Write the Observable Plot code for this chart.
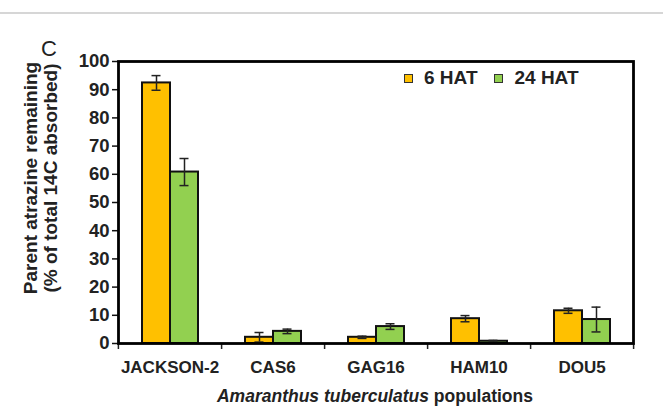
<!DOCTYPE html>
<html><head><meta charset="utf-8">
<script src="https://cdn.jsdelivr.net/npm/d3@7"></script>
<script src="https://cdn.jsdelivr.net/npm/@observablehq/plot@0.6"></script>
<style>
body{margin:0;background:#fff;}
#wrap{position:relative;width:663px;height:406px;overflow:hidden;background:#fff;
  font-family:"Liberation Sans",Arial,sans-serif;color:#222;}
#topline{position:absolute;left:0;top:12px;width:663px;height:2px;background:#d6d6d6;}
#panel{position:absolute;left:41px;top:36px;font-size:22px;color:#222;}
#ylab{position:absolute;width:300px;height:42px;left:-108px;top:157px;transform:rotate(-90deg);
  text-align:center;font-weight:bold;font-size:19px;line-height:20px;}
#xlab{position:absolute;left:117px;width:516px;top:386px;text-align:center;font-weight:bold;font-size:17.5px;}
#legend{position:absolute;left:404px;top:67px;display:flex;align-items:center;font-weight:bold;font-size:19px;}
#legend .sw{width:7px;height:7px;border:1.5px solid #333;display:inline-block;margin-right:11px;}
#legend .item{display:flex;align-items:center;margin-right:17px;}
#chart{position:absolute;left:0;top:0;}
</style></head>
<body><div id="wrap">
<div id="topline"></div>
<div id="chart"></div>
<div id="panel">C</div>
<div id="ylab">Parent atrazine remaining<br>(% of total 14C absorbed)</div>
<div id="xlab"><i>Amaranthus tuberculatus</i> populations</div>
<div id="legend"></div>
</div>
<script>
const categories = ["JACKSON-2", "CAS6", "GAG16", "HAM10", "DOU5"];
const series = ["6 HAT", "24 HAT"];
const colors = ["#FFC000", "#92D050"];
const hat6 = [92.4, 2.2, 2.2, 8.8, 11.6];
const hat6Err = [2.6, 1.7, 0.4, 1.1, 0.9];
const hat24 = [60.8, 4.3, 6.0, 0.8, 8.5];
const hat24Err = [4.8, 0.8, 1.0, 0.3, 4.4];
const yTicks = [0, 10, 20, 30, 40, 50, 60, 70, 80, 90, 100];

const data = [];
categories.forEach((c, i) => {
  data.push({cat: c, series: series[0], value: hat6[i], err: hat6Err[i]});
  data.push({cat: c, series: series[1], value: hat24[i], err: hat24Err[i]});
});

const W = 663, H = 406, ML = 117, MR = 30, MT = 61, MB = 63;
const step = (W - ML - MR) / categories.length;
const font = '"Liberation Sans",Arial,sans-serif';

const chart = Plot.plot({
  width: W, height: H,
  marginLeft: ML, marginRight: MR, marginTop: MT, marginBottom: MB,
  style: {fontFamily: font, fontSize: "17px", fontWeight: "bold", color: "#222", background: "transparent"},
  fx: {domain: categories, padding: 0, label: null, axis: null},
  x: {domain: series, paddingInner: 0, paddingOuter: 0.78, axis: null},
  y: {domain: [0, 100], label: null, axis: null},
  color: {domain: series, range: colors},
  marks: [
    Plot.barY(data, {fx: "cat", x: "series", y: "value", fill: "series", stroke: "#111", strokeWidth: 2}),
    Plot.ruleX(data, {fx: "cat", x: "series", y1: d => Math.max(0, d.value - d.err), y2: d => d.value + d.err, stroke: "#222", strokeWidth: 1.5}),
    Plot.tickY(data, {fx: "cat", x: "series", y: d => d.value + d.err, stroke: "#222", strokeWidth: 1.5, insetLeft: 9.5, insetRight: 9.5}),
    Plot.tickY(data, {fx: "cat", x: "series", y: d => Math.max(0, d.value - d.err), stroke: "#222", strokeWidth: 1.5, insetLeft: 9.5, insetRight: 9.5}),
    Plot.axisY({ticks: yTicks, tickSize: 6, tickPadding: 3, label: null, fontSize: 18.5, stroke: "#111", strokeWidth: 1.5}),
    Plot.axisFx({anchor: "bottom", tickSize: 0, tickPadding: 17, label: null, fontSize: 17}),
    Plot.axisFx({anchor: "bottom", text: null, tickSize: 6, dx: step / 2, label: null, strokeWidth: 1.5}),
    Plot.axisFx({anchor: "bottom", ticks: [categories[0]], text: null, tickSize: 6, dx: -step / 2, label: null, strokeWidth: 1.5}),
    Plot.frame({facet: "super", stroke: "#000", strokeWidth: 2.8})
  ]
});
document.getElementById("chart").appendChild(chart);

const legend = document.getElementById("legend");
series.forEach((s, i) => {
  const item = document.createElement("span");
  item.className = "item";
  const sw = document.createElement("span");
  sw.className = "sw";
  sw.style.background = colors[i];
  item.appendChild(sw);
  item.appendChild(document.createTextNode(s));
  legend.appendChild(item);
});
</script>
</body></html>
